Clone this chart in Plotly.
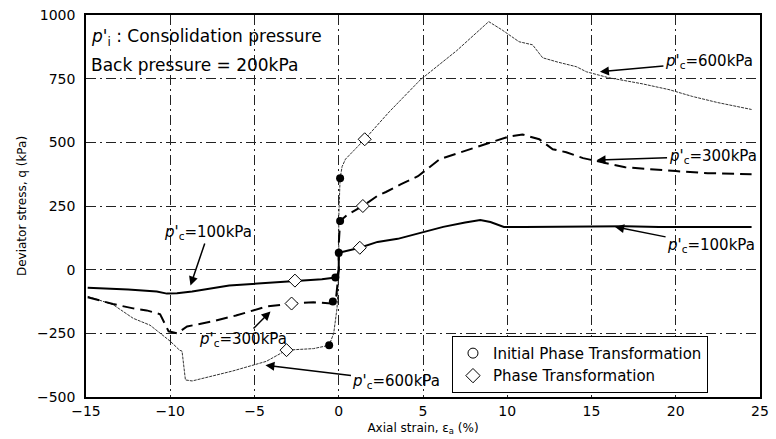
import plotly.graph_objects as go

# Undrained triaxial tests: deviator stress vs axial strain
# Each branch listed from the origin outwards.
c100_comp_x = [0, 0, 0.0, 1.25, 2.3, 3.5, 4.85, 6.2, 7.5, 8.4, 9.0, 9.8, 11, 13, 15, 17, 19, 21, 23, 24.5]
c100_comp_y = [0, 30, 66, 86, 109, 121, 144, 168, 185, 195, 187, 168, 168, 169, 168, 170, 168, 169, 168, 168]
c100_ext_x = [0, -0.05, -0.2, -1.0, -2.6, -4.9, -6.5, -8.7, -9.6, -10.2, -10.8, -12.5, -14.9]
c100_ext_y = [0, -15, -31, -38, -43, -55, -62, -86, -93, -94, -86, -78, -71]

c300_comp_x = [0, 0, 0.08, 0.5, 1.43, 2.3, 2.8, 3.7, 4.7, 6.0, 7.4, 9.2, 10.1, 10.9, 11.9, 12.7,
               13.5, 14.5, 15.7, 17.0, 20.0, 21.9, 24.5]
c300_comp_y = [0, 100, 191, 215, 250, 290, 305, 336, 367, 434, 465, 504, 523, 531, 512, 473,
               461, 438, 422, 402, 387, 379, 375]
c300_ext_x = [0, -0.05, -0.15, -0.35, -0.45, -1.5, -2.8, -4.3, -6.1, -7.5, -9.0, -9.6, -10.1,
              -10.6, -11.4, -12.2, -13.4, -14.9]
c300_ext_y = [0, -40, -105, -125, -133, -128, -133, -145, -180, -203, -223, -250, -242,
              -175, -160, -152, -135, -108]

c600_comp_x = [0, 0, 0.08, 0.2, 0.4, 1.54, 3.0, 4.85, 7.0, 8.9, 9.7, 10.7, 11.5, 12.1, 13.0,
               14.1, 14.7, 16.0, 18.0, 19.6, 21.0, 22.5, 24.5]
c600_comp_y = [0, 200, 359, 405, 434, 512, 620, 746, 860, 974, 941, 895, 883, 832, 815,
               797, 777, 754, 730, 707, 680, 656, 629]
c600_ext_x = [0, -0.1, -0.3, -0.57, -1.5, -3.1, -4.3, -6.3, -8.7, -9.1, -9.3, -9.45, -10.0,
              -11.2, -12.2, -13.4, -14.9]
c600_ext_y = [0, -150, -250, -297, -310, -316, -360, -398, -437, -433, -320, -316, -281,
              -218, -191, -137, -105]

# Initial phase transformation points (filled circles)
ipt_x = [0.0, -0.2, 0.08, -0.35, 0.08, -0.57]
ipt_y = [66, -31, 191, -125, 359, -297]
# Phase transformation points (open diamonds)
pt_x = [1.25, -2.6, 1.43, -2.8, 1.54, -3.1]
pt_y = [86, -43, 250, -133, 512, -316]

x_ticks = [-15, -10, -5, 0, 5, 10, 15, 20, 25]
y_ticks = [-500, -250, 0, 250, 500, 750, 1000]

FONT = "DejaVu Sans, Arial, sans-serif"


def full_path(ext_x, ext_y, comp_x, comp_y):
    return ext_x[::-1] + comp_x[1:], ext_y[::-1] + comp_y[1:]


fig = go.Figure()

x6, y6 = full_path(c600_ext_x, c600_ext_y, c600_comp_x, c600_comp_y)
fig.add_trace(go.Scatter(x=x6, y=y6, mode="lines", showlegend=False,
                         line=dict(color="#333333", width=1, dash="3px,1px")))
x3, y3 = full_path(c300_ext_x, c300_ext_y, c300_comp_x, c300_comp_y)
fig.add_trace(go.Scatter(x=x3, y=y3, mode="lines", showlegend=False,
                         line=dict(color="black", width=2, dash="12px,6px")))
x1, y1 = full_path(c100_ext_x, c100_ext_y, c100_comp_x, c100_comp_y)
fig.add_trace(go.Scatter(x=x1, y=y1, mode="lines", showlegend=False,
                         line=dict(color="black", width=2)))

fig.add_trace(go.Scatter(x=ipt_x, y=ipt_y, mode="markers", showlegend=False,
                         marker=dict(symbol="circle", size=8, color="black")))
fig.add_trace(go.Scatter(x=pt_x, y=pt_y, mode="markers", showlegend=False,
                         marker=dict(symbol="diamond", size=10, color="white",
                                     line=dict(color="black", width=1))))

# legend keys
fig.add_trace(go.Scatter(x=[None], y=[None], mode="markers", name="Initial Phase Transformation",
                         marker=dict(symbol="circle-open", size=10, color="black", line=dict(width=1))))
fig.add_trace(go.Scatter(x=[None], y=[None], mode="markers", name="Phase Transformation",
                         marker=dict(symbol="diamond-open", size=11, color="black", line=dict(width=1))))

label = "<i>p</i>'<sub>c</sub>=%dkPa"
arrows = [
    (15.5, 777, 109, -10, 600),
    (15.3, 430, 116, -4, 300),
    (16.4, 168, 96, 19, 100),
    (-8.8, -62, 18, -53, 100),
    (-4.05, -164, -28, 28, 300),
    (-4.35, -375, 131, 16, 600),
]
for hx, hy, ax, ay, p in arrows:
    fig.add_annotation(x=hx, y=hy, xref="x", yref="y", ax=ax, ay=ay,
                       text=label % p, showarrow=True, arrowhead=2, arrowsize=1.2,
                       arrowwidth=1.5, arrowcolor="black",
                       font=dict(family=FONT, size=15, color="black"))

fig.add_annotation(x=0.004, y=0.94, xref="paper", yref="paper", xanchor="left", yanchor="middle",
                   text="<i>p</i>'<sub>i</sub> : Consolidation pressure", showarrow=False,
                   font=dict(family=FONT, size=17, color="black"))
fig.add_annotation(x=0.004, y=0.869, xref="paper", yref="paper", xanchor="left", yanchor="middle",
                   text="Back pressure = 200kPa", showarrow=False,
                   font=dict(family=FONT, size=17, color="black"))

axis_common = dict(showline=True, mirror=True, linecolor="black", linewidth=1.5,
                   showgrid=True, gridcolor="#222222", gridwidth=1,
                   griddash="10px,4px,2px,4px", zeroline=False, ticks="",
                   tickfont=dict(family=FONT, size=14, color="black"))

fig.update_xaxes(range=[-15, 25], tickvals=x_ticks, automargin=False,
                 title=dict(text="Axial strain, ε<sub>a</sub> (%)", standoff=6,
                            font=dict(family=FONT, size=12, color="black")),
                 **axis_common)
fig.update_yaxes(range=[-500, 1000], tickvals=y_ticks, automargin=False, ticklabelstandoff=6,
                 title=dict(text="Deviator stress, q (kPa)", standoff=8,
                            font=dict(family=FONT, size=12, color="black")),
                 **axis_common)

fig.update_layout(
    width=776, height=439,
    margin=dict(l=86, r=16, t=15, b=42),
    plot_bgcolor="white", paper_bgcolor="white",
    showlegend=True,
    legend=dict(x=0.543, y=0.16, xanchor="left", yanchor="top",
                bgcolor="white", bordercolor="black", borderwidth=1,
                font=dict(family=FONT, size=15, color="black"),
                itemwidth=30, tracegroupgap=2),
)

fig.write_html("out.html")
